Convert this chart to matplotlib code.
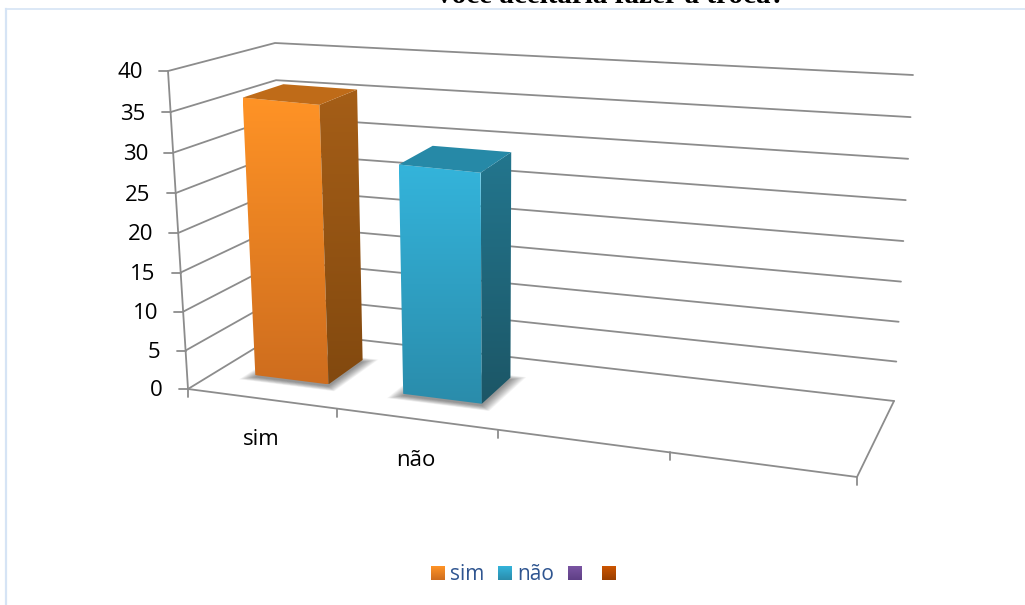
#!/usr/bin/env python3
# -*- coding: utf-8 -*-

import numpy as np
import matplotlib
matplotlib.use('Agg')
from matplotlib import pyplot as plt
from matplotlib.colors import to_rgb
from matplotlib.patches import Polygon

title = 'você aceitaria fazer a troca?'
categories = ['sim', 'não']
values = [36, 29.5]
legend_labels = ['sim', 'não', '', '']
y_ticks = [0, 5, 10, 15, 20, 25, 30, 35, 40]
n_slots = 4
y_max = 40

# colours: (top of gradient, bottom of gradient)
front_cols = [('#FF9326', '#CE6D1E'), ('#34B4DB', '#2A8CAB')]
side_cols = [('#A55E17', '#82490F'), ('#23768E', '#1C5666')]
top_cols = ['#BF6B18', '#2689A7']
legend_cols = [('#FF9326', '#CE6D1E'), ('#34B4DB', '#2A8CAB'),
               ('#7A55A3', '#5F3F85'), ('#CC5500', '#9A3F00')]
line_col = '#8C8C8C'

# pixel corners of the 3d box, indexed by (right, back, top)
corners = {
    (0, 0, 0): (188, 389), (1, 0, 0): (857, 477),
    (0, 1, 0): (283, 331), (1, 1, 0): (894, 401),
    (0, 0, 1): (168, 71), (1, 0, 1): (877, 148),
    (0, 1, 1): (275, 43), (1, 1, 1): (913, 75),
}


def warp(u, k):
    return u / (u + k * (1 - u))


def proj(c, d, val):
    # c along categories 0-1, d depth 0-1, val in data units
    t = warp(c, 1.16)
    v = warp(val / y_max, 1.038)
    x, y = 0, 0
    for (a, b, e), (px, py) in corners.items():
        w = (t if a else 1 - t) * (d if b else 1 - d) * (v if e else 1 - v)
        x += w * px
        y += w * py
    return x, y


def gradient_poly(ax, pts, cols, z):
    pts = np.array(pts)
    c0, c1 = np.array(to_rgb(cols[0])), np.array(to_rgb(cols[1]))
    f = np.linspace(0, 1, 128)[:, None, None]
    img = c0[None, None, :] * (1 - f) + c1[None, None, :] * f
    ext = (pts[:, 0].min(), pts[:, 0].max(), pts[:, 1].max(), pts[:, 1].min())
    im = ax.imshow(img, extent=ext, aspect='auto', zorder=z, interpolation='bilinear')
    im.set_clip_path(Polygon(pts, closed=True, transform=ax.transData))


fig = plt.figure(figsize=(10.25, 6.05), dpi=100)
ax = fig.add_axes([0, 0, 1, 1])
plt.rcParams['font.family'] = ['Open Sans', 'DejaVu Sans']

# chart frame
ax.plot([6, 6], [8.5, 605], color='#D6E4F5', lw=1.6, zorder=1)
ax.plot([6, 1025], [8.5, 8.5], color='#D6E4F5', lw=1.2, zorder=1)

ax.text(611, 3, title, family='Liberation Serif', weight='bold', fontsize=21,
        ha='center', va='baseline', color='black')

# walls and floor
line_kw = dict(color=line_col, lw=1.3, zorder=2, solid_capstyle='round')
for val in y_ticks:
    pts = [proj(0, 0, val), proj(0, 1, val), proj(1, 1, val)]
    ax.plot(*zip(*pts), **line_kw)
    x, y = proj(0, 0, val)
    ax.plot([x - 9, x], [y, y], **line_kw)
    ax.text(x - 25, y + 2, str(val), fontsize=16, ha='right', va='center', color='black')
ax.plot(*zip(proj(0, 0, 0), proj(0, 0, y_max)), **line_kw)
ax.plot(*zip(proj(0, 0, 0), proj(1, 0, 0), proj(1, 1, 0)), **line_kw)
for i in range(n_slots + 1):
    x, y = proj(i / n_slots, 0, 0)
    ax.plot([x, x], [y, y + 8], **line_kw)

# bars
bar_w = 0.504
bar_mid = 0.513
d0, d1 = 0.32, 0.72
for i, (cat, val) in enumerate(zip(categories, values)):
    c0 = (i + bar_mid - bar_w / 2) / n_slots
    c1 = (i + bar_mid + bar_w / 2) / n_slots
    fl = np.array([proj(c0, d0, 0), proj(c1, d0, 0), proj(c1, d1, 0), proj(c0, d1, 0)])
    mid = fl.mean(axis=0)
    for g in np.linspace(1.3, 1.0, 14):
        ax.add_patch(Polygon(mid + (fl - mid) * g + [0, 2], closed=True, fc='black', ec='none',
                             alpha=0.035, zorder=3))
    gradient_poly(ax, [proj(c0, d0, val), proj(c1, d0, val), proj(c1, d0, 0), proj(c0, d0, 0)],
                  front_cols[i], 5)
    gradient_poly(ax, [proj(c1, d0, val), proj(c1, d1, val), proj(c1, d1, 0), proj(c1, d0, 0)],
                  side_cols[i], 5)
    ax.add_patch(Polygon([proj(c0, d0, val), proj(c1, d0, val), proj(c1, d1, val), proj(c0, d1, val)],
                         closed=True, fc=top_cols[i], ec='none', zorder=5))
    x, y = proj((i + 0.5) / n_slots, 0, 0)
    ax.text(x, y + 41, cat, fontsize=16, ha='center', va='center', color='black')

# legend
swatch_x = [431, 498, 568, 602]
for sx, lab, cols in zip(swatch_x, legend_labels, legend_cols):
    gradient_poly(ax, [(sx, 566), (sx + 14, 566), (sx + 14, 580), (sx, 580)], cols, 5)
    if lab:
        ax.text(sx + 19, 575, lab, fontsize=15, ha='left', va='center', color='#2F5590')

ax.set_xlim(0, 1025)
ax.set_ylim(605, 0)
ax.axis('off')
fig.savefig('out.png', dpi=100, facecolor='white')
